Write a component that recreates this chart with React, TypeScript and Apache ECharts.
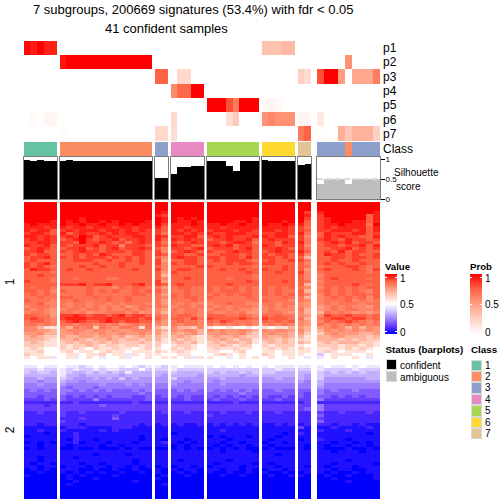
import React, { useEffect, useRef } from "react";
import * as echarts from "echarts";

const FONT = '"Liberation Sans", Arial, sans-serif';
const TITLE_LINE_1 = "7 subgroups, 200669 signatures (53.4%) with fdr < 0.05";
const TITLE_LINE_2 = "41 confident samples";
const PROB_LABELS = ["p1", "p2", "p3", "p4", "p5", "p6", "p7"];
const CLASS_COLORS = ["#66C2A5", "#FC8D62", "#8DA0CB", "#E78AC3", "#A6D854", "#FFD92F", "#E5C494"];
const VALUE_STOPS = ["#0000ff", "#6234ff", "#a080ff", "#d2c1ff", "#ffffff", "#ffd0c2", "#ff9e81", "#ff6345", "#ff0000"];
const PROB_STOPS = ["#ffffff", "#ffd0c2", "#ff9e81", "#ff6345", "#ff0000"];

const GROUP_X = [[24, 57], [60, 152], [155, 168], [171, 204], [207, 259], [262, 295], [298, 311], [317, 380]];

const CLASS_BY_GROUP = [
  [1, 1, 1, 1, 1],
  [2, 2, 2, 2, 2, 2, 2, 2, 2, 2, 2, 2, 2, 2],
  [3, 3],
  [4, 4, 4, 4, 4],
  [5, 5, 5, 5, 5, 5, 5, 5],
  [6, 6, 6, 6, 6],
  [7, 7],
  [3, 3, 3, 3, 2, 3, 3, 3, 3],
];

const SILHOUETTE = [
  [0.97, 0.95, 0.97, 0.95, 0.95],
  [0.95, 0.97, 0.95, 0.95, 0.95, 0.95, 0.95, 0.95, 0.95, 0.95, 0.95, 0.95, 0.95, 0.95],
  [0.52, 0.52],
  [0.63, 0.81, 0.81, 0.83, 0.83],
  [0.95, 0.95, 0.95, 0.82, 0.7, 0.95, 0.95, 0.95],
  [0.97, 0.95, 0.94, 0.95, 0.95],
  [0.85, 0.87],
  [0.37, 0.5, 0.5, 0.49, 0.37, 0.5, 0.5, 0.5, 0.5],
];

// Prob per row (p1..p7) per sample, one table per group
const PROB_1 = [
  [0.98, 0.93, 1, 0.92, 0.92], [0, 0, 0, 0, 0], [0, 0, 0, 0, 0], [0, 0, 0, 0, 0], [0, 0, 0, 0, 0],
  [0, 0.03, 0, 0.05, 0.05], [0, 0, 0, 0, 0],
];
const PROB_2 = [
  [0, 0, 0, 0, 0, 0, 0, 0, 0, 0, 0, 0, 0, 0],
  [0.95, 1, 1, 1, 1, 1, 1, 1, 1, 1, 1, 1, 1, 1],
  [0, 0, 0, 0, 0, 0, 0, 0, 0, 0, 0, 0, 0, 0],
  [0, 0, 0, 0, 0, 0, 0, 0, 0, 0, 0, 0, 0, 0],
  [0, 0, 0, 0, 0, 0, 0, 0, 0, 0, 0, 0, 0, 0],
  [0, 0, 0, 0, 0, 0, 0, 0, 0, 0, 0, 0, 0, 0],
  [0.02, 0, 0, 0, 0, 0, 0, 0, 0, 0, 0, 0, 0, 0],
];
const PROB_3 = [[0, 0], [0, 0], [0.75, 0.75], [0, 0], [0, 0], [0, 0], [0.2, 0.2]];
const PROB_4 = [
  [0, 0, 0, 0, 0], [0, 0, 0, 0, 0], [0, 0.2, 0.2, 0, 0], [0.58, 0.73, 0.73, 1, 1], [0, 0, 0, 0, 0],
  [0.2, 0, 0, 0, 0], [0.18, 0, 0, 0, 0],
];
const PROB_5 = [
  [0, 0, 0, 0, 0, 0, 0, 0], [0, 0, 0, 0, 0, 0, 0, 0], [0, 0, 0, 0, 0, 0, 0, 0], [0, 0, 0, 0, 0, 0, 0, 0],
  [1, 1, 1, 0.8, 0.65, 1, 1, 1], [0, 0, 0, 0.18, 0.28, 0, 0, 0], [0, 0, 0, 0, 0, 0, 0, 0],
];
const PROB_6 = [
  [0.32, 0.32, 0.32, 0.36, 0.36], [0, 0, 0, 0, 0], [0, 0, 0, 0, 0], [0, 0, 0, 0, 0],
  [0.03, 0.05, 0.03, 0, 0], [0.55, 0.6, 0.55, 0.55, 0.55], [0, 0, 0, 0, 0],
];
const PROB_7 = [[0, 0], [0, 0], [0.25, 0.18], [0, 0], [0, 0], [0.05, 0.05], [0.65, 0.75]];
const PROB_8 = [
  [0, 0, 0, 0, 0, 0, 0, 0, 0],
  [0, 0, 0, 0, 0.55, 0, 0, 0, 0],
  [0.8, 1, 1, 0.5, 0, 0.45, 0.45, 0.45, 0.65],
  [0, 0, 0, 0, 0, 0, 0, 0, 0],
  [0, 0, 0, 0, 0, 0, 0, 0, 0],
  [0.12, 0, 0, 0, 0, 0, 0, 0, 0],
  [0.01, 0, 0, 0.42, 0.3, 0.4, 0.4, 0.4, 0.25],
];
const PROBS = [PROB_1, PROB_2, PROB_3, PROB_4, PROB_5, PROB_6, PROB_7, PROB_8];

// Heatmap levels, one line per row, blocks per group.
// Each character is a key into LEVEL_VALUES: digits are the blue side, a is white, b-k the red side.
const LEVEL_KEYS = "0123456789abcdefghijk";
const LEVEL_VALUES = [0, 0.04, 0.09, 0.14, 0.19, 0.24, 0.29, 0.34, 0.39, 0.45, 0.5, 0.58, 0.64, 0.7, 0.76, 0.8, 0.84, 0.88, 0.92, 0.96, 1];
const HEAT_ROWS = [
  "kkkkk kkkkkkkkkkkkkk kk kkkkk kkkkkkkk kkkkk kk kkkkkkkkk",
  "kkkkk kkkkkkkkkkkkkk kk kkkkk kkkkkkkk kkkkk kk kkkkkkkkk",
  "kkkkk kkkkkkkkkkkkkk kk kkkkk kkkkkkkk kkkkk kk kkkkkkkkk",
  "kkkkk kkkkkkkkkkkkkk kj kkkkk kkkkkkkk kkkkk ki jkkkkkkkj",
  "kkkkk kkkkkkkkkkkkkk ji kkkkk kkkkkkkk kkkkk kj ikkkkkkhj",
  "kkkkk kkkjkkkkkkkkkk kj kjkjk kkkkkkkj kkkkk ki ijkkkkkhj",
  "kkkkj kjkjkkjkjkkkkj kj kjjkj kkkkjjkj kkkjk kh ijkkkjjhj",
  "jkjjj kjjkjjkjjkjkjj ki jjjkj jjkjjkjj kjjkj jh ijjkjjjgk",
  "jjjij jijjijjjijjijj jh jjijj jjijjjjj jjjji ig ijijjjjhj",
  "jijjh ijijjjijjijiji ih jijij ijjjijji jjiji ih iijjjijhj",
  "ijjih jhijiijijijjii ig jjiji jiijjjii iijji jg hjiiijjhi",
  "jjiji ijikjhijiiijji ji iijjh ijijiiij jijjh if hjijiihhj",
  "ijiji hijkihiijhiiji jh jijii hiijiijh ijiii ig ijihjiihi",
  "iijji iihkiijihigiji ig ihiji iihijjig iihji jg hijijhiih",
  "jiijh ihiiijhiifiiih ih jiihh ijijhiih jihii if hiihiijhj",
  "hijih hiijhihijhiiji hf iihij hiiihijh iijih ig hhiijhihi",
  "iijhh ihijiihiiihiih if hijih ihhijiih hijii jh hihjhiihh",
  "ihiih hhihihjihhhiih ih iihhi hhiiihih ihiih if hjiihihhi",
  "hiijh ihihiiihihihih hf ijiih iihiihjh iihih hd hhiihiihi",
  "hihhh hhiiihhihhihih ie hhiih hihiiihg hihhi ig hhihhihhh",
  "ihijh hhhhhihhhihhih if ihiih hhhihiih iihhh hf hihihhihh",
  "ihihg hhhihhihhihhhh hf hhhhi ihhhhhhg hhhih hg ghhhiihgh",
  "hjiih hihhihhhhhhihh if hiihh hhihhihh ihhih he hihhhihgi",
  "hhhhg hhhhhhhhhhhhhh he ihhhh hhhhhhih hhihh if ghhhhhhgh",
  "hhihh hhhhhhhhhhhhhh hd hhhhh hhhhhhhg hhhhh hf fhhhhhhhh",
  "hhhhg hhghhhhgghhhhh hf hhihh hhhghhhg hhhhh hf ghihhhhgh",
  "ihhhg hhhhhhhhhhhhhh ie hhhhh hhhhhhih hhhih hg fhhhhhhhh",
  "hhhhh iiijhiijhhhijh ih hihhh hhhihhhh hhhhh hd ghhhhihgh",
  "hghhg gggghgggfhghhg ge ghhgg hghghghg hghgh gf fhghghghh",
  "hhghf hggghghghgghgh hf gghgg hghhhghg hghgg hd ghghghgfh",
  "ghghg gggghgggggghhg ge hghgg ghghghhg hghgh hf fhghghhgh",
  "gghgg hhggghghgghggg gf hghhg hggggghg ggghg gd fghghghfh",
  "hgggf gghgggghgghggg ge ggghg gggggggg hgggf gf fggghfgfg",
  "gghff gfggfggfgfgggf ge gfgff fgghggff ggfgg fe fgfgggfgg",
  "fgggf gfggfgfgfgefgg gf fggfg gfgfgggf fgfgf fe efgfgffeg",
  "gfgfe fggfggfgffgfgf fe gfggf fggfgffe fgfff gd efgfggffg",
  "fggfe ggfgeffgggfgef fd gfggf gffgfgee fggfe fd dgfgfefef",
  "hhgge iijihiihijhiih gf ghhgf hhhgghgf hghgg fe fihhihhgh",
  "hihgf ijjjiiijiiiihi hf hhgig ihhhhihg ihhhg gd ghiihiigh",
  "ghhgf hijihhijihiihh ge ghggf hgihgggf hghgh fe fhghihgfg",
  "ggfgf ggfggfgfgefgfg fe gfggf gfgfgfgf fgfgf fe gfgfgfgfg",
  "ffdbb fdgfgcgfeggfbg db fddcf baabaaba babbd ed efgfdfdfe",
  "ffeed efffeffefeefff ed feffd fefeefed feffe fd dfefefefe",
  "eefdd eefeeefeefeefe ec edefd eefeefdc efeed ec cefeeedde",
  "dedcc eddeedeedecded dc dedcb deddedcc edded db ddeedddcd",
  "dddcb ddedcddedcddcd db dcdcb ddedcddb ddcdc cb dddcdcdcc",
  "cdcbb cdcddcdcdcccdc cb cdcdb cdcddcdb cdcdc dc cdcdddccb",
  "cccbb cbccdcbccbccbc ca bccba ccdcbcca cbccc ba cccbccbcb",
  "bcbaa cbcbacbbcbbabc ba cbcba bcbbcbba bcbcb cb bbcbcbcba",
  "bbcaa bcabbabcbbabbb cb bcbaa bbaabcaa bbabb bb bcbabbbaa",
  "cbbaa abbabbcabb9bab ba abbaa abcbabaa cbabb ba 8abbbaaba",
  "babb9 ab9aba9aab9aab ab bab9b baa9abab abaab a9 9abaaba9a",
  "aaaaa aaaaaaaaaaaaaa aa aaaaa aaaaaaaa aaaaa aa aaaaaaaaa",
  "aaaaa aaaaaaaaaaaaaa aa aaaaa aaaaaaaa aaaaa aa aaaaaaaaa",
  "99a99 a9989a9aa9a989 98 9a999 9a9a9a9a 9a999 99 9a99a9a99",
  "88988 989889899888a8 88 98888 88888888 88988 88 988889888",
  "87887 98778787879777 77 87777 87877878 88777 77 878787877",
  "77777 97767777767777 76 77776 77777677 77777 76 877777777",
  "66766 87666767686766 66 86666 66766666 66766 76 866666677",
  "66566 76656666666666 66 66566 65666666 66666 65 766666666",
  "55655 65555565556565 55 65555 55655555 55555 55 755555555",
  "55555 54555455555555 55 55555 55555555 55555 55 655555555",
  "45454 55454545444545 44 45454 54545454 44544 44 545445444",
  "44444 54444444444454 44 44444 44444544 44444 43 544444444",
  "44344 43434343444334 34 43433 43434343 43343 43 443434344",
  "33343 43333533333334 33 33433 34333433 33433 33 533333333",
  "22222 22322222222322 22 22222 22223222 22222 23 222222222",
  "33323 33333343333333 33 33333 33333333 33333 33 533333333",
  "33333 33333333333333 33 33333 33333333 33333 34 533333333",
  "22322 32232222232222 23 22322 22322232 22322 22 322322232",
  "22222 32222222322222 22 22222 32222222 22222 22 422222222",
  "22222 22232222422222 22 22222 22222222 22222 22 322222222",
  "22222 32222222222222 22 22222 22222222 22222 22 422222222",
  "22122 22212222222212 12 12112 12121212 11212 12 221221211",
  "11111 12221111222111 11 11111 11111111 11111 31 112111121",
  "11211 21111121211111 11 11111 11211111 11111 11 211121111",
  "11101 11211111111111 11 01111 11111111 11101 21 111111101",
  "01111 11211111111101 11 11111 01011101 11011 11 111111111",
  "11111 10211011111101 10 11011 11101111 10111 01 211101111",
  "01010 11201110111011 12 10101 11011011 01101 11 110110101",
  "11011 10111101101111 11 01011 10101101 10111 10 101101101",
  "01011 00100100010100 00 01010 01010100 01000 10 100010010",
  "11111 11111111111111 11 11111 11011110 11111 11 110111011",
  "11111 11111011110111 11 11111 11111111 11011 11 111111111",
  "11011 11011111111111 11 11111 11111111 11111 11 111111111",
  "11011 11111111111011 11 10111 11101111 11111 11 111101111",
  "10110 11101101111011 11 11111 10111110 10111 11 110111110",
  "11011 01110110110101 01 01101 01111011 11011 10 101110111",
  "01010 11100100100100 10 10110 11011010 01101 11 110110011",
  "00100 10101010010010 10 01010 10010010 10010 01 101001011",
  "10000 01010000100000 01 00100 00100100 01001 10 010010001",
  "00000 01000100000000 10 00000 00000000 00000 00 001000001",
  "00000 00100000000100 00 00000 00000000 00000 00 000010000",
  "00000 01000000000000 01 00000 00000000 00000 00 000000000",
  "00000 00000000000000 00 00000 00000000 00000 00 000000000",
  "00000 00000000000000 00 00000 00000000 00000 00 000000000",
  "00000 00000000000000 00 00000 00000000 00000 00 000000000",
  "00000 00000000000000 00 00000 00000000 00000 00 000000000",
];

const range = (n: number) => Array.from({ length: n }, (_, i) => String(i));

function buildOption() {
  const grid: any[] = [];
  const xAxis: any[] = [];
  const yAxis: any[] = [];
  const series: any[] = [];
  const probIdx: number[] = [];
  const classIdx: number[] = [];
  const heatIdx: number[] = [];
  const rowBlocks = HEAT_ROWS.map((r) => r.split(" "));
  const heatRowCats = range(HEAT_ROWS.length);
  const last = GROUP_X.length - 1;

  const addGrid = (g: any, cats: string[], y: any) => {
    grid.push(g);
    const i = grid.length - 1;
    xAxis.push({ type: "category", gridIndex: i, data: cats, show: false });
    yAxis.push({ gridIndex: i, ...y });
    return i;
  };
  const hiddenCat = (data: string[]) => ({ type: "category", data, inverse: true, show: false });
  const rightCat = (data: string[]) => ({
    type: "category", data, inverse: true, position: "right",
    axisLine: { show: false }, axisTick: { show: false },
    axisLabel: { fontFamily: FONT, fontSize: 12, color: "#000", margin: 3, interval: 0 },
  });

  GROUP_X.forEach(([x0, x1], g) => {
    const w = x1 - x0;
    const n = CLASS_BY_GROUP[g].length;
    const cats = range(n);

    const pg = addGrid({ left: x0, top: 41, width: w, height: 100 }, cats,
      g === last ? rightCat(PROB_LABELS) : hiddenCat(PROB_LABELS));
    const pData: any[] = [];
    PROBS[g].forEach((row, r) => row.forEach((v, c) => pData.push([c, r, v])));
    probIdx.push(series.length);
    series.push({ type: "heatmap", xAxisIndex: pg, yAxisIndex: pg, data: pData, silent: true });

    const cg = addGrid({ left: x0, top: 142, width: w, height: 14 }, cats,
      g === last ? rightCat(["Class"]) : hiddenCat(["Class"]));
    classIdx.push(series.length);
    series.push({
      type: "heatmap", xAxisIndex: cg, yAxisIndex: cg, silent: true,
      data: CLASS_BY_GROUP[g].map((v, c) => [c, 0, v]),
    });

    const isLast = g === last;
    const sg = addGrid(
      { left: x0 - 0.5, top: 156.5, width: w + 1, height: 43.5 },
      cats,
      {
        type: "value", min: -0.025, max: 1.0625, position: "right", show: isLast,
        splitLine: { show: false },
        axisLine: { show: false },
        axisTick: { show: isLast, length: 4, lineStyle: { color: "#000", width: 1 }, customValues: [0, 0.5, 1] },
        axisLabel: { show: isLast, fontFamily: FONT, fontSize: 8, color: "#000", margin: 5, customValues: [0, 0.5, 1] },
      });
    series.push({
      type: "bar", xAxisIndex: sg, yAxisIndex: sg, barWidth: "100%", silent: true,
      data: SILHOUETTE[g],
      itemStyle: { color: isLast ? "#bebebe" : "#000" },
      ...(isLast ? {
        markLine: {
          silent: true, symbol: "none", label: { show: false },
          lineStyle: { color: "#dcdcdc", type: "dashed", width: 1.5 },
          data: [{ yAxis: 0.5 }],
        },
      } : {}),
    });

    const hg = addGrid({ left: x0, top: 202, width: w, height: 296.5 }, cats, hiddenCat(heatRowCats));
    const hData: any[] = [];
    rowBlocks.forEach((blocks, r) => {
      for (let c = 0; c < n; c++) {
        hData.push([c, r, LEVEL_VALUES[LEVEL_KEYS.indexOf(blocks[g][c])]]);
      }
    });
    heatIdx.push(series.length);
    series.push({ type: "heatmap", xAxisIndex: hg, yAxisIndex: hg, data: hData, silent: true });
  });

  const txt = (text: string, x: number, y: number, fontSize: number, extra: any = {}, styleExtra: any = {}) => ({
    type: "text", x, y, silent: true, ...extra,
    style: { text, fontFamily: FONT, fontSize, fill: "#000", textAlign: "left", textVerticalAlign: "middle", ...styleExtra },
  });
  const gradBar = (x: number, y: number, stops: string[]) => ({
    type: "rect", shape: { x, y, width: 12, height: 60 }, silent: true,
    style: {
      fill: new echarts.graphic.LinearGradient(0, 0, 0, 1,
        [...stops].reverse().map((color, i) => ({ offset: i / (stops.length - 1), color }))),
    },
  });
  const barTicks = (x: number) => [277, 304, 331].flatMap((y) => [x, x + 10].map((tx) => ({
    type: "rect", shape: { x: tx, y, width: 2, height: 1 }, silent: true, style: { fill: "#fff" },
  })));
  const swatch = (x: number, y: number, w: number, h: number, fill: string) => ({
    type: "rect", shape: { x, y, width: w, height: h }, silent: true,
    style: { fill, stroke: "#d9d9d9", lineWidth: 1 },
  });
  const frames = GROUP_X.map(([x0, x1]) => ({
    type: "rect", z: 20, silent: true,
    shape: { x: x0 - 0.5, y: 156.5, width: x1 - x0 + 1, height: 43 },
    style: { fill: "none", stroke: "#7a7a7a", lineWidth: 1 },
  }));

  const graphic: any[] = [
    ...frames,
    txt(TITLE_LINE_1, 33, 9.5, 13),
    txt(TITLE_LINE_2, 105, 28.5, 13),
    txt("1", 10, 282, 12, { rotation: Math.PI / 2 }, { textAlign: "center" }),
    txt("2", 10, 430, 12, { rotation: Math.PI / 2 }, { textAlign: "center" }),
    txt("Silhouette", 394, 172, 10),
    txt("score", 396, 186, 10),
    txt("Value", 385, 266, 9.6, {}, { fontWeight: "bold" }),
    gradBar(385, 274, VALUE_STOPS),
    ...barTicks(385),
    txt("1", 400, 278, 10),
    txt("0.5", 400, 304.5, 10),
    txt("0", 400, 332, 10),
    txt("Prob", 470, 266, 9.6, {}, { fontWeight: "bold" }),
    gradBar(470, 274, PROB_STOPS),
    ...barTicks(470),
    txt("1", 485, 278, 10),
    txt("0.5", 485, 304.5, 10),
    txt("0", 485, 332, 10),
    txt("Status (barplots)", 385.5, 349, 9.8, {}, { fontWeight: "bold" }),
    swatch(386, 359.5, 10, 10, "#000"),
    swatch(386, 371, 10, 10, "#bebebe"),
    txt("confident", 400, 365, 10),
    txt("ambiguous", 400, 377, 10),
    txt("Class", 471, 349, 9.8, {}, { fontWeight: "bold" }),
    ...CLASS_COLORS.flatMap((c, i) => [
      swatch(471, 360 + i * 11.4, 10, 10.4, c),
      txt(String(i + 1), 485, 365 + i * 11.4, 10),
    ]),
  ];

  return {
    animation: false,
    backgroundColor: "#fff",
    grid, xAxis, yAxis, series, graphic,
    visualMap: [
      { type: "continuous", show: false, min: 0, max: 1, dimension: 2, seriesIndex: probIdx, inRange: { color: PROB_STOPS } },
      { type: "continuous", show: false, min: 0, max: 1, dimension: 2, seriesIndex: heatIdx, inRange: { color: VALUE_STOPS } },
      {
        type: "piecewise", show: false, dimension: 2, seriesIndex: classIdx,
        pieces: CLASS_COLORS.map((color, i) => ({ value: i + 1, color })),
      },
    ],
  };
}

export default function App() {
  const ref = useRef<HTMLDivElement>(null);
  useEffect(() => {
    const chart = echarts.init(ref.current!, undefined, { renderer: "svg" });
    chart.setOption(buildOption() as any);
    return () => chart.dispose();
  }, []);
  return (
    <div
      ref={ref}
      style={{ position: "fixed", left: 0, top: 0, width: 504, height: 504, shapeRendering: "crispEdges" } as any}
    />
  );
}
